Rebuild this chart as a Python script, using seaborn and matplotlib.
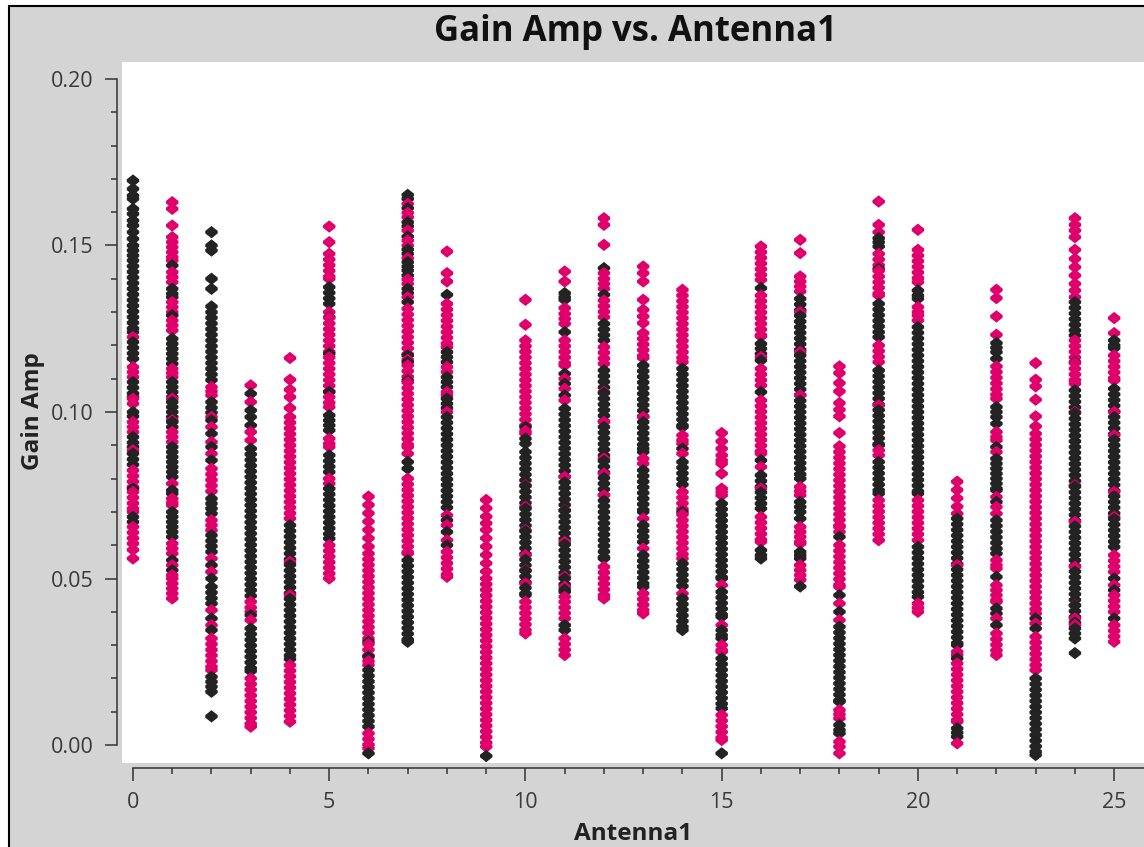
import matplotlib
matplotlib.use('Agg')
import matplotlib.pyplot as plt
from matplotlib.patches import Rectangle
from matplotlib.path import Path
from matplotlib.ticker import MultipleLocator, FormatStrFormatter
import seaborn as sns
import pandas as pd

# Valores: Gain Amp por antena, serie negra y serie magenta
ant00_black = [.1695, .1670, .1650, .1640, .1610, .1595, .1575, .1560, .1540, .1520, .1500, .1485, .1470,
               .1455, .1438, .1421, .1404, .1387, .1370, .1353, .1336, .1319, .1302, .1285, .1268, .1251, .1240,
               .1210, .1193, .1176, .1160, .1090, .1073, .1056, .1045, .1000, .0987, .0925, .0908, .0895,
               .0875, .0858, .0842, .0770, .0685, .0670]
ant00_pink = [.1225, .1135, .1120, .1105, .1040, .1025, .0970, .0955, .0940, .0885, .0825, .0808, .0791, .0775,
              .0760, .0743, .0726, .0710, .0700, .0655, .0638, .0621, .0605, .0586, .0560]

ant01_black = [.1440, .1370, .1355, .1345, .1290, .1220, .1205, .1190, .1175, .1160, .1145, .1090, .1075, .1060,
               .1045, .1030, .1015, .1000, .0985, .0970, .0955, .0895, .0880, .0865, .0850, .0835, .0820, .0805,
               .0765, .0755, .0700, .0685, .0670, .0655, .0640, .0625, .0555, .0525]
ant01_pink = [.1630, .1610, .1560, .1525, .1510, .1495, .1480, .1465, .1455, .1420, .1405, .1390, .1330, .1315,
              .1300, .1275, .1260, .1245, .1130, .1117, .1105, .1040, .0975, .0940, .0925, .0910, .0785, .0740,
              .0728, .0720, .0605, .0590, .0575, .0540, .0510, .0500, .0485, .0470, .0455, .0440]

ant02_black = [.1540, .1500, .1485, .1400, .1370, .1317, .1300, .1283, .1266, .1249, .1232, .1215, .1198, .1181,
               .1164, .1147, .1130, .1113, .1096, .1030, .1013, .0998, .0975, .0935, .0895, .0855, .0740, .0725,
               .0710, .0695, .0630, .0613, .0597, .0580, .0540, .0500, .0475, .0458, .0441, .0425, .0380, .0345,
               .0205, .0190, .0175, .0160, .0086]
ant02_pink = [.1075, .1062, .1050, .0985, .0955, .0910, .0875, .0830, .0813, .0796, .0779, .0762, .0675, .0660,
              .0645, .0560, .0520, .0405, .0360, .0320, .0303, .0286, .0269, .0252, .0235, .0225]

ant03_black = [.1055, .1005, .0985, .0960, .0890, .0873, .0856, .0839, .0822, .0805, .0788, .0771, .0754, .0737,
               .0720, .0703, .0686, .0669, .0652, .0635, .0618, .0601, .0584, .0567, .0550, .0533, .0516, .0499,
               .0482, .0465, .0448, .0390, .0350, .0333, .0316, .0299, .0282, .0265, .0248, .0231, .0222]
ant03_pink = [.1080, .1030, .0940, .0915, .0430, .0413, .0400, .0375, .0200, .0183, .0166, .0149, .0132, .0115,
              .0098, .0081, .0064, .0055]

ant04_black = [.0660, .0643, .0626, .0609, .0592, .0575, .0558, .0541, .0524, .0507, .0490, .0473, .0456, .0439,
               .0422, .0405, .0388, .0371, .0354, .0337, .0320, .0303, .0286, .0269, .0258]
ant04_pink = [.1162, .1097, .1067, .1045, .1012, .0985, .0968, .0951, .0934, .0917, .0900, .0883, .0866, .0849,
              .0832, .0815, .0798, .0781, .0764, .0747, .0730, .0713, .0696, .0680, .0550, .0450, .0240, .0223,
              .0206, .0189, .0172, .0155, .0138, .0121, .0104, .0087, .0070]

ant05_black = [.1375, .1358, .1341, .1325, .1285, .1175, .1060, .0990, .0975, .0960, .0945, .0870, .0853, .0836,
               .0820, .0770, .0753, .0736, .0719, .0702, .0685, .0668, .0651, .0634, .0620]
ant05_pink = [.1557, .1510, .1475, .1458, .1441, .1424, .1407, .1400, .1300, .1283, .1266, .1249, .1232, .1215,
              .1198, .1181, .1164, .1147, .1130, .1113, .1096, .1079, .1062, .1045, .1028, .1015, .0920, .0905,
              .0895, .0800, .0785, .0600, .0583, .0566, .0549, .0532, .0515, .0500]

ant06_black = [.0310, .0265, .0225, .0208, .0191, .0174, .0157, .0140, .0123, .0106, .0089, .0072, .0055, -.0025]
ant06_pink = [.0746, .0721, .0696, .0671, .0646, .0621, .0596, .0575, .0558, .0541, .0524, .0507, .0490, .0473,
              .0456, .0439, .0422, .0405, .0388, .0371, .0354, .0337, .0320, .0303, .0286, .0269, .0252, .0240,
              .0035, .0018, .0001, -.0010]

ant07_black = [.1652, .1640, .1612, .1570, .1558, .1527, .1488, .1475, .1450, .1437, .1425, .1410, .1370, .1357,
               .1330, .1170, .1150, .1095, .0850, .0830, .0555, .0538, .0521, .0504, .0487, .0470, .0453, .0436,
               .0419, .0402, .0385, .0368, .0351, .0334, .0317, .0310]
ant07_pink = [.1625, .1598, .1585, .1545, .1515, .1500, .1462, .1398, .1385, .1345, .1310, .1293, .1276, .1259,
              .1242, .1225, .1208, .1191, .1174, .1157, .1140, .1123, .1106, .1089, .1072, .1055, .1038, .1021,
              .1004, .0987, .0970, .0953, .0936, .0919, .0902, .0895, .0875, .0800, .0783, .0766, .0749, .0732,
              .0715, .0698, .0681, .0664, .0647, .0630, .0613, .0596, .0579, .0575]

ant08_black = [.1352, .1180, .1165, .1150, .1105, .1090, .1075, .1040, .1025, .1012, .0985, .0968, .0951, .0934,
               .0917, .0900, .0883, .0866, .0849, .0832, .0815, .0798, .0781, .0764, .0747, .0730, .0713, .0675,
               .0640, .0600]
ant08_pink = [.1482, .1417, .1392, .1325, .1308, .1291, .1274, .1257, .1240, .1223, .1206, .1195, .1135, .1120,
              .1060, .1050, .1000, .0690, .0660, .0615, .0580, .0563, .0546, .0529, .0512, .0505]

ant09_black = [-.0033]
ant09_pink = [.0736, .0711, .0686, .0666, .0646, .0621, .0596, .0571, .0546, .0521, .0500, .0483, .0466, .0449,
              .0432, .0415, .0398, .0381, .0364, .0347, .0330, .0313, .0296, .0279, .0262, .0245, .0228, .0211,
              .0194, .0177, .0160, .0143, .0126, .0109, .0092, .0075, .0058, .0041, .0024, .0007, -.0005]

ant10_black = [.0955, .0920, .0905, .0880, .0863, .0846, .0829, .0812, .0795, .0778, .0761, .0744, .0727, .0710,
               .0693, .0676, .0659, .0642, .0625, .0608, .0591, .0574, .0557, .0540, .0523, .0506, .0489, .0472,
               .0455, .0450]
ant10_pink = [.1337, .1262, .1215, .1198, .1181, .1164, .1147, .1130, .1113, .1096, .1079, .1062, .1045, .1028,
              .1011, .0994, .0977, .0960, .0943, .0935, .0780, .0715, .0645, .0570, .0525, .0485, .0430, .0413,
              .0396, .0379, .0362, .0345, .0335]

ant11_black = [.1357, .1345, .1337, .1240, .1115, .1085, .1050, .1010, .0993, .0976, .0959, .0942, .0925, .0908,
               .0891, .0874, .0857, .0840, .0823, .0806, .0789, .0772, .0755, .0738, .0721, .0704, .0687, .0670,
               .0653, .0636, .0619, .0602, .0585, .0568, .0551, .0534, .0517, .0500, .0483, .0466, .0460, .0360,
               .0345]
ant11_pink = [.1422, .1392, .1312, .1295, .1280, .1265, .1215, .1198, .1181, .1164, .1147, .1140, .1100, .1070,
              .1035, .0805, .0705, .0610, .0505, .0475, .0445, .0430, .0413, .0396, .0380, .0320, .0303, .0286,
              .0270]

ant12_black = [.1432, .1352, .1265, .1248, .1231, .1215, .1125, .1108, .1091, .1074, .1057, .1040, .1023, .1006,
               .0989, .0972, .0955, .0938, .0921, .0904, .0887, .0870, .0853, .0836, .0819, .0802, .0785, .0768,
               .0751, .0734, .0717, .0700, .0683, .0666, .0649, .0632, .0615, .0598, .0581, .0564, .0560]
ant12_pink = [.1582, .1562, .1502, .1417, .1400, .1385, .1370, .1335, .1318, .1301, .1285, .1195, .1178, .1161,
              .1145, .1060, .0970, .0860, .0815, .0750, .0535, .0518, .0501, .0484, .0467, .0450, .0440]

ant13_black = [.1140, .1123, .1106, .1089, .1072, .1055, .1038, .1021, .1004, .0987, .0970, .0953, .0936, .0919,
               .0902, .0890, .0880, .0825, .0808, .0791, .0774, .0757, .0740, .0723, .0706, .0700, .0660, .0643,
               .0626, .0610, .0570, .0553, .0536, .0519, .0502, .0485, .0475]
ant13_pink = [.1437, .1417, .1392, .1337, .1307, .1287, .1267, .1237, .1220, .1203, .1186, .1169, .1162, .0985,
              .0860, .0845, .0680, .0590, .0455, .0438, .0421, .0405, .0395]

ant14_black = [.1130, .1113, .1096, .1079, .1062, .1045, .1028, .1011, .0994, .0977, .0960, .0955, .0890, .0850,
               .0833, .0816, .0799, .0782, .0700, .0545, .0528, .0511, .0494, .0477, .0440, .0423, .0406, .0389,
               .0372, .0355, .0345]
ant14_pink = [.1367, .1350, .1333, .1316, .1299, .1282, .1265, .1248, .1231, .1214, .1197, .1180, .1163, .1150,
              .0930, .0915, .0905, .0875, .0760, .0743, .0726, .0709, .0692, .0675, .0658, .0641, .0624, .0607,
              .0590, .0573, .0560, .0455]

ant15_black = [.0725, .0708, .0691, .0674, .0657, .0640, .0623, .0606, .0589, .0572, .0555, .0538, .0521, .0504,
               .0500, .0460, .0443, .0426, .0409, .0392, .0385, .0345, .0330, .0320, .0260, .0243, .0226, .0209,
               .0192, .0175, .0158, .0141, .0124, .0110, -.0025]
ant15_pink = [.0937, .0912, .0890, .0870, .0855, .0845, .0815, .0770, .0760, .0750, .0480, .0360, .0300, .0285,
              .0280, .0090, .0073, .0056, .0039, .0022, .0015]

ant16_black = [.1372, .1205, .1190, .1175, .1155, .1060, .0855, .0810, .0793, .0776, .0759, .0742, .0725, .0710,
               .0585, .0570, .0560]
ant16_pink = [.1497, .1480, .1463, .1446, .1429, .1412, .1397, .1350, .1333, .1316, .1299, .1282, .1265, .1248,
              .1231, .1227, .1165, .1130, .1113, .1096, .1080, .1035, .1018, .1001, .0984, .0967, .0950, .0933,
              .0916, .0899, .0882, .0875, .0835, .0770, .0685, .0668, .0651, .0634, .0617, .0610]

ant17_black = [.1340, .1323, .1306, .1289, .1272, .1255, .1238, .1221, .1204, .1187, .1170, .1153, .1136, .1119,
               .1102, .1085, .1068, .1051, .1034, .1017, .1000, .0983, .0966, .0949, .0932, .0915, .0898, .0881,
               .0864, .0847, .0830, .0813, .0800, .0730, .0715, .0700, .0680, .0580, .0570, .0560, .0476]
ant17_pink = [.1517, .1477, .1407, .1392, .1377, .1362, .1300, .1180, .1050, .0775, .0762, .0750, .0655, .0640,
              .0625, .0610, .0605, .0540, .0525, .0510, .0496]

ant18_black = [.0625, .0450, .0400, .0355, .0338, .0321, .0304, .0287, .0270, .0253, .0236, .0219, .0202, .0185,
               .0168, .0151, .0134, .0130, .0060, .0045, .0035]
ant18_pink = [.1137, .1117, .1087, .1062, .1027, .1007, .0987, .0937, .0897, .0880, .0863, .0846, .0829, .0812,
              .0795, .0778, .0761, .0744, .0727, .0710, .0693, .0676, .0659, .0655, .0640, .0600, .0583, .0566,
              .0549, .0532, .0515, .0498, .0481, .0475, .0425, .0375, .0105, .0092, .0080, .0010, -.0005, -.0025]

ant19_black = [.1522, .1510, .1497, .1430, .1325, .1308, .1291, .1274, .1257, .1240, .1225, .1125, .1108, .1091,
               .1074, .1057, .1040, .1023, .1006, .0989, .0972, .0955, .0938, .0921, .0904, .0900, .0850, .0833,
               .0816, .0799, .0782, .0765, .0755]
ant19_pink = [.1632, .1562, .1540, .1475, .1458, .1441, .1424, .1407, .1390, .1373, .1356, .1350, .1200, .1183,
              .1166, .1150, .1020, .0885, .0870, .0735, .0718, .0701, .0684, .0667, .0650, .0633, .0615]

ant20_black = [.1365, .1350, .1340, .1255, .1238, .1221, .1204, .1187, .1170, .1153, .1136, .1119, .1102, .1085,
               .1068, .1051, .1034, .1017, .1000, .0983, .0966, .0949, .0932, .0915, .0898, .0881, .0864, .0847,
               .0830, .0813, .0796, .0779, .0762, .0755, .0595, .0578, .0561, .0544, .0527, .0510, .0493, .0476,
               .0459, .0445]
ant20_pink = [.1547, .1487, .1470, .1453, .1436, .1419, .1402, .1390, .1315, .1300, .1290, .1275, .0735, .0718,
              .0701, .0684, .0667, .0650, .0633, .0615, .0425, .0412, .0400]

ant21_black = [.0680, .0663, .0646, .0629, .0612, .0595, .0578, .0561, .0544, .0527, .0510, .0493, .0476, .0459,
               .0442, .0425, .0408, .0391, .0374, .0357, .0340, .0323, .0306, .0300, .0260, .0050, .0037, .0025]
ant21_pink = [.0791, .0766, .0741, .0716, .0695, .0540, .0280, .0270, .0245, .0228, .0211, .0194, .0177, .0160,
              .0143, .0126, .0109, .0092, .0075, .0070, .0005]

ant22_black = [.1207, .1193, .1180, .1160, .1015, .1000, .0985, .0965, .0895, .0860, .0845, .0830, .0815, .0800,
               .0785, .0770, .0765, .0730, .0675, .0658, .0641, .0624, .0607, .0590, .0575, .0505, .0410, .0395,
               .0360]
ant22_pink = [.1367, .1342, .1287, .1232, .1137, .1120, .1103, .1086, .1069, .1052, .1040, .0940, .0925, .0915,
              .0880, .0745, .0715, .0695, .0555, .0540, .0530, .0480, .0465, .0450, .0435, .0430, .0380, .0335,
              .0318, .0301, .0284, .0270]

ant23_black = [.0380, .0350, .0200, .0183, .0166, .0149, .0132, .0115, .0098, .0081, .0064, .0047, .0030, .0013,
               -.0004, -.0020, -.0030]
ant23_pink = [.1147, .1097, .1077, .1037, .0987, .0957, .0935, .0918, .0901, .0884, .0867, .0850, .0833, .0816,
              .0799, .0782, .0765, .0748, .0731, .0714, .0697, .0680, .0663, .0646, .0629, .0612, .0595, .0578,
              .0561, .0544, .0527, .0510, .0493, .0476, .0459, .0442, .0425, .0408, .0395, .0365, .0325, .0308,
              .0291, .0274, .0257, .0240, .0225]

ant24_black = [.1330, .1313, .1296, .1279, .1262, .1245, .1230, .1150, .1065, .1048, .1031, .1014, .0997, .0980,
               .0963, .0946, .0929, .0912, .0895, .0878, .0861, .0844, .0827, .0810, .0793, .0776, .0759, .0742,
               .0725, .0708, .0691, .0674, .0657, .0640, .0623, .0606, .0589, .0572, .0555, .0538, .0521, .0504,
               .0487, .0470, .0453, .0436, .0419, .0402, .0385, .0368, .0350, .0335, .0320, .0276]
ant24_pink = [.1582, .1562, .1545, .1525, .1487, .1460, .1435, .1410, .1385, .1365, .1345, .1215, .1198, .1181,
              .1164, .1147, .1130, .1113, .1096, .1085, .1000, .0780, .0670, .0535, .0420, .0380, .0360]

ant25_black = [.1215, .1200, .1192, .1070, .1053, .1036, .1019, .1002, .0985, .0968, .0951, .0934, .0917, .0900,
               .0883, .0866, .0849, .0832, .0815, .0798, .0781, .0764, .0747, .0730, .0713, .0696, .0679, .0662,
               .0645, .0628, .0611, .0595, .0500, .0465, .0380]
ant25_pink = [.1282, .1237, .1170, .1153, .1136, .1119, .1102, .1095, .1000, .0930, .0760, .0685, .0570, .0553,
              .0536, .0520, .0480, .0450, .0433, .0416, .0400, .0360, .0343, .0326, .0310]

black_lists = [ant00_black, ant01_black, ant02_black, ant03_black, ant04_black, ant05_black, ant06_black,
               ant07_black, ant08_black, ant09_black, ant10_black, ant11_black, ant12_black, ant13_black,
               ant14_black, ant15_black, ant16_black, ant17_black, ant18_black, ant19_black, ant20_black,
               ant21_black, ant22_black, ant23_black, ant24_black, ant25_black]
pink_lists = [ant00_pink, ant01_pink, ant02_pink, ant03_pink, ant04_pink, ant05_pink, ant06_pink,
              ant07_pink, ant08_pink, ant09_pink, ant10_pink, ant11_pink, ant12_pink, ant13_pink,
              ant14_pink, ant15_pink, ant16_pink, ant17_pink, ant18_pink, ant19_pink, ant20_pink,
              ant21_pink, ant22_pink, ant23_pink, ant24_pink, ant25_pink]

rows = []
for ant, vals in enumerate(black_lists):
    for v in vals:
        rows.append((ant, v, 'black'))
for ant, vals in enumerate(pink_lists):
    for v in vals:
        rows.append((ant, v, 'pink'))
df = pd.DataFrame(rows, columns=['Antenna1', 'Gain Amp', 'serie'])
# dibujar de arriba hacia abajo para que los colores se mezclen
df = df.sort_values('Gain Amp', ascending=False).reset_index(drop=True)

# rombo con los costados un poco planos (como el simbolo de plotms)
rombo = Path([(0, 1), (1, 0.2), (1, -0.2), (0, -1), (-1, -0.2), (-1, 0.2), (0, 1)],
             [Path.MOVETO] + [Path.LINETO] * 5 + [Path.CLOSEPOLY])

W, H = 1144, 847
fig = plt.figure(figsize=(W / 100, H / 100), dpi=100, facecolor='white')
fig.add_artist(Rectangle((9 / W, -0.1), 1.2, 1.1 - 6 / H, transform=fig.transFigure,
                         facecolor='#d4d4d4', edgecolor='black', lw=1.5, zorder=-5))

ax = fig.add_axes([122 / W, (H - 763) / H, (W - 122) / W, (763 - 62) / H])
ax.set_facecolor('white')

sns.scatterplot(data=df, x='Antenna1', y='Gain Amp', hue='serie',
                palette={'black': '#232323', 'pink': '#e0006b'},
                marker=rombo, s=80, linewidth=0, legend=False, ax=ax)

ax.set_xlim(-0.28, 25.76)
ax.set_ylim(-0.0054, 0.2051)
ax.set_xlabel('')
ax.set_ylabel('')

for side in ['top', 'right']:
    ax.spines[side].set_visible(False)
ax.spines['left'].set_position(('outward', 3.6))
ax.spines['bottom'].set_position(('outward', 3.6))
ax.spines['left'].set_bounds(0, 0.2)
ax.spines['bottom'].set_bounds(0, 25.76)
for side in ['left', 'bottom']:
    ax.spines[side].set_color('#333333')
    ax.spines[side].set_linewidth(1.1)

ax.xaxis.set_major_locator(MultipleLocator(5))
ax.xaxis.set_minor_locator(MultipleLocator(1))
ax.yaxis.set_major_locator(MultipleLocator(0.05))
ax.yaxis.set_minor_locator(MultipleLocator(0.01))
ax.yaxis.set_major_formatter(FormatStrFormatter('%.2f'))
ax.xaxis.set_major_formatter(FormatStrFormatter('%d'))
ax.tick_params(which='major', length=9, width=1.1, color='#333333', labelsize=15.5,
               labelcolor='#3a3a3a', pad=8)
ax.tick_params(which='minor', length=4.5, width=1.1, color='#333333')
for lab in ax.get_xticklabels() + ax.get_yticklabels():
    lab.set_family('Open Sans')

fig.text(635 / W, 1 - 41 / H, 'Gain Amp vs. Antenna1', ha='center', va='baseline',
         fontsize=25, fontweight='bold', color='#111111', family='Open Sans')
fig.text(633 / W, 1 - 840 / H, 'Antenna1', ha='center', va='baseline',
         fontsize=17.5, fontweight='bold', color='#222222', family='Open Sans')
fig.text(33 / W, 1 - 411 / H, 'Gain Amp', rotation=90, ha='center', va='center',
         fontsize=17.5, fontweight='bold', color='#222222', family='Open Sans')

fig.savefig('out.png', dpi=100)
